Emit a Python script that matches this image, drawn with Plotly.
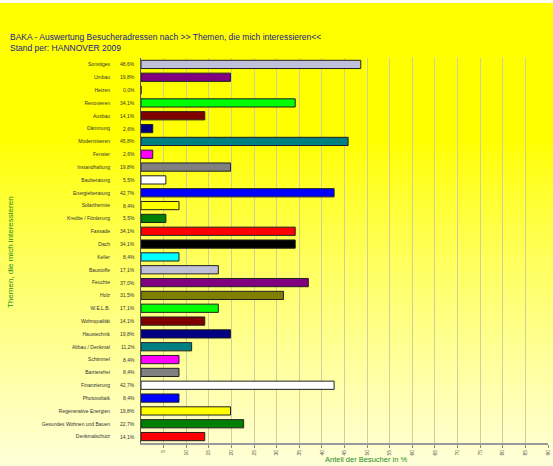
import plotly.graph_objects as go

# ---- data ----
themes = [
    "Sonstiges", "Umbau", "Heizen", "Renovieren", "Ausbau", "Dämmung",
    "Modernisieren", "Fenster", "Instandhaltung", "Bauberatung",
    "Energieberatung", "Solarthermie", "Kredite / Förderung", "Fassade",
    "Dach", "Keller", "Baustoffe", "Feuchte", "Holz", "W.E.L.B.",
    "Wohnqualität", "Haustechnik", "Altbau / Denkmal", "Schimmel",
    "Barrierefrei", "Finanzierung", "Photovoltaik",
    "Regenerative Energien", "Gesundes Wohnen und Bauen", "Denkmalschutz",
]
share_pct = [
    48.6, 19.8, 0.0, 34.1, 14.1, 2.6, 45.8, 2.6, 19.8, 5.5,
    42.7, 8.4, 5.5, 34.1, 34.1, 8.4, 17.1, 37.0, 31.5, 17.1,
    14.1, 19.8, 11.2, 8.4, 8.4, 42.7, 8.4, 19.8, 22.7, 14.1,
]
bar_colors = [
    "#C0C0D8", "#800080", "#808000", "#00FF00", "#800000", "#000080",
    "#008080", "#FF00FF", "#808080", "#FFFFFF", "#0000FF", "#FFFF00",
    "#008000", "#FF0000", "#000000", "#00FFFF", "#C0C0D8", "#800080",
    "#808000", "#00FF00", "#800000", "#000080", "#008080", "#FF00FF",
    "#808080", "#FFFFFF", "#0000FF", "#FFFF00", "#008000", "#FF0000",
]
x_ticks = list(range(5, 95, 5))

title_line1 = "BAKA - Auswertung Besucheradressen nach >> Themen, die mich interessieren<<"
title_line2 = "Stand per: HANNOVER 2009"
y_title = "Themen, die mich interessieren"
x_title = "Anteil der Besucher in %"

W, H = 553, 466
ml, mr, mt, mb = 141, 5, 58, 23
PW, PH = W - ml - mr, H - mt - mb


def px_x(px):
    return (px - ml) / PW


def px_y(py):
    return 1 - (py - mt) / PH


fig = go.Figure()
fig.add_trace(go.Bar(
    x=share_pct, y=themes, orientation="h",
    marker=dict(color=bar_colors, line=dict(color="#202020", width=1)),
    showlegend=False, hoverinfo="x+y",
))

# background gradient (style only)
shapes = []
n = 58
step = H / n
for i in range(n):
    t = i / (n - 1)
    b = 0 if t < 0.3 else int(215 * ((t - 0.3) / 0.7) ** 0.85)
    shapes.append(dict(type="rect", xref="paper", yref="paper",
                       x0=px_x(-2), x1=px_x(W + 2),
                       y0=px_y((i + 1) * step + 0.6), y1=px_y(i * step - 0.6),
                       fillcolor=f"rgb(255,255,{b})", line=dict(width=0),
                       layer="below"))
# thin white strip at very top
shapes.append(dict(type="rect", xref="paper", yref="paper",
                   x0=px_x(-2), x1=px_x(W + 2), y0=px_y(3), y1=px_y(-2),
                   fillcolor="#FFFFF0", line=dict(width=0), layer="below"))

annotations = []
for name, v in zip(themes, share_pct):
    annotations.append(dict(
        xref="paper", yref="y", x=px_x(137), y=name, xanchor="right",
        text=f"{v:.1f}".replace(".", ",") + "%", showarrow=False,
        font=dict(size=5, color="#333333", family="Liberation Sans"),
    ))
annotations.append(dict(
    xref="paper", yref="paper", x=px_x(8), y=px_y(42.5),
    xanchor="left", yanchor="middle", showarrow=False,
    text=title_line1 + "<br>" + title_line2, align="left",
    font=dict(size=8.5, color="#1A1A8C", family="Liberation Sans"),
))
annotations.append(dict(
    xref="paper", yref="paper", x=px_x(11), y=px_y(252),
    xanchor="center", yanchor="middle", showarrow=False, textangle=-90,
    text=y_title, font=dict(size=8, color="#1E8C1E", family="Liberation Sans"),
))
annotations.append(dict(
    xref="paper", yref="paper", x=px_x(366), y=px_y(460),
    xanchor="center", yanchor="middle", showarrow=False,
    text=x_title, font=dict(size=7.5, color="#1E8C1E", family="Liberation Sans"),
))

fig.update_layout(
    width=W, height=H,
    margin=dict(l=ml, r=mr, t=mt, b=mb, autoexpand=False),
    paper_bgcolor="#FFFFE0",
    plot_bgcolor="rgba(0,0,0,0)",
    shapes=shapes,
    annotations=annotations,
    bargap=0.36,
    font=dict(family="Liberation Sans", size=5, color="#333333"),
)
fig.update_yaxes(
    autorange="reversed", ticks="", ticklabelstandoff=29, automargin=False,
    tickfont=dict(size=5, color="#333333"),
    showgrid=False, showline=True, linecolor="#555555", linewidth=1,
)
fig.update_xaxes(
    range=[0, 90], tickvals=x_ticks, ticktext=[str(v) for v in x_ticks],
    tickangle=-90, tickfont=dict(size=5, color="#555555"), automargin=False,
    ticks="outside", ticklen=3, tickcolor="#888888",
    showgrid=True, gridcolor="#CFCF9A", gridwidth=1,
    showline=True, linecolor="#999999", linewidth=2, mirror=False,
    zeroline=False,
)

fig.write_html(
    "out.html",
    config={"displayModeBar": False},
    post_script="document.body.style.margin='0px';document.body.style.overflow='hidden';",
)
